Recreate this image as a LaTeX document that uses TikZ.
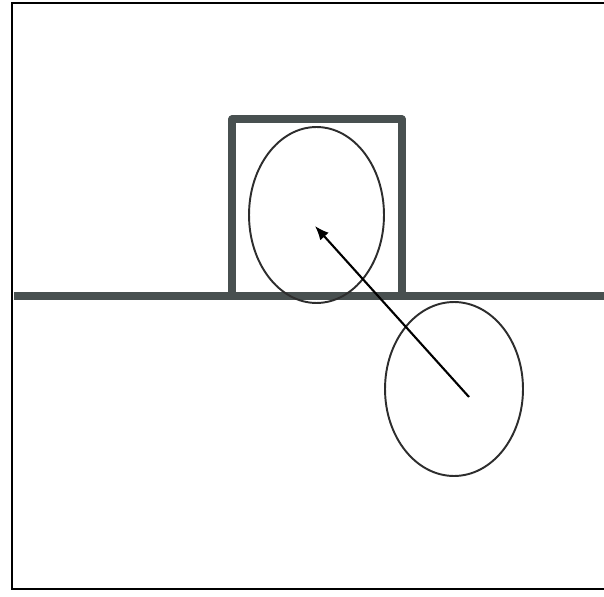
\documentclass[tikz,border=0pt]{standalone}
\usepackage{tikz}
\usetikzlibrary{arrows.meta,shapes.geometric}
\definecolor{grigio}{RGB}{72,80,80}
\definecolor{scuro}{RGB}{45,45,45}

\begin{document}
\begin{tikzpicture}[x=0.02cm, y=-0.02cm,
  muro/.style={draw=grigio, line width=4pt, line join=round},
  ovale/.style={ellipse, draw=scuro, line width=1.1pt, inner sep=0pt}]
\useasboundingbox (0,0) rectangle (604,597);
% cornice
\draw[line width=1.2pt] (12,3) rectangle (610,589);
% scatola appoggiata sul piano
\draw[muro] (232,296) -- (232,119) -- (402,119) -- (402,296);
% piano
\draw[muro] (14,296) -- (606,296);
% ellissi
\node[ovale, minimum width=2.7cm, minimum height=3.52cm] (sopra) at (316.5,215) {};
\node[ovale, minimum width=2.76cm, minimum height=3.48cm] (sotto) at (454,389) {};
% freccia
\coordinate (coda) at (469,397);
\coordinate (testa) at (315,226);
\draw[-{Latex[length=8pt,width=6.5pt]}, line width=1.2pt, black] (coda) -- (testa);
\end{tikzpicture}
\end{document}
